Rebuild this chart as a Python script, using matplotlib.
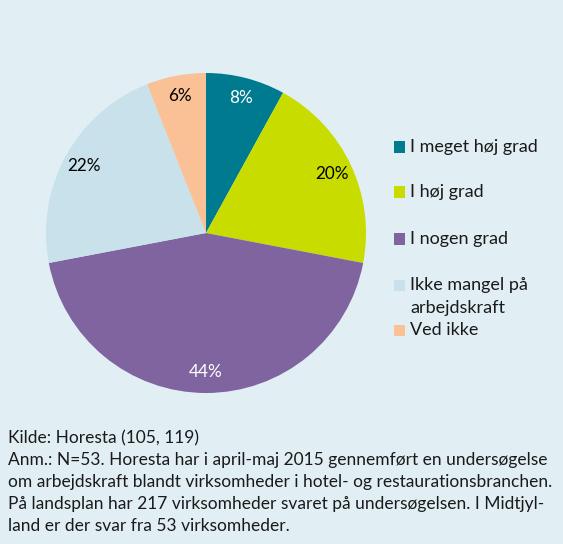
import matplotlib.pyplot as plt
from matplotlib.patches import Rectangle

# data
categories = ["I meget høj grad", "I høj grad", "I nogen grad",
              "Ikke mangel på\narbejdskraft", "Ved ikke"]
values = [8, 20, 44, 22, 6]
colors = ["#007A8F", "#C8DC00", "#7F64A0", "#C8E1EA", "#F9C195"]
label_colors = ["white", "black", "white", "black", "black"]

note_lines = [
    "Kilde: Horesta (105, 119)",
    "Anm.: N=53. Horesta har i april-maj 2015 gennemført en undersøgelse",
    "om arbejdskraft blandt virksomheder i hotel- og restaurationsbranchen.",
    "På landsplan har 217 virksomheder svaret på undersøgelsen. I Midtjyl-",
    "land er der svar fra 53 virksomheder.",
]

bg = "#E1EFF4"
plt.rcParams["font.family"] = ["Lato", "DejaVu Sans"]

W, H = 563, 544
fig = plt.figure(figsize=(W / 100, H / 100), dpi=100, facecolor=bg)

# pie: center (206, 233), radius 160 px
cx, cy, r = 206, 233, 160
ax = fig.add_axes([(cx - r) / W, 1 - (cy + r) / H, 2 * r / W, 2 * r / H])
ax.set_facecolor(bg)
wedges, texts, autotexts = ax.pie(
    values, colors=colors, startangle=90, counterclock=False,
    autopct=lambda p: f"{p:.0f}%", pctdistance=0.87,
    wedgeprops=dict(linewidth=0), textprops=dict(fontsize=12.3),
)
for t, c in zip(autotexts, label_colors):
    t.set_color(c)
ax.set_xlim(-1, 1)
ax.set_ylim(-1, 1)
ax.set_aspect("equal")

# legend drawn by hand
leg_y = [147, 192, 239, 285, 330]
for name, col, y in zip(categories, colors, leg_y):
    fig.patches.append(Rectangle((394 / W, 1 - (y + 5.5) / H), 11 / W, 11 / H,
                                 transform=fig.transFigure, facecolor=col,
                                 edgecolor="none"))
    first, *rest = name.split("\n")
    fig.text(410 / W, 1 - y / H, first, fontsize=13, va="center",
             ha="left", color="#1a1a1a")
    for k, extra in enumerate(rest, 1):
        fig.text(410 / W, 1 - (y + 23 * k) / H, extra, fontsize=13,
                 va="center", ha="left", color="#1a1a1a")

for i, line in enumerate(note_lines):
    fig.text(8 / W, 1 - (438 + 22 * i) / H, line, fontsize=12.5,
             va="center", ha="left", color="#1a1a1a")

fig.savefig("out.png", dpi=100, facecolor=bg)
